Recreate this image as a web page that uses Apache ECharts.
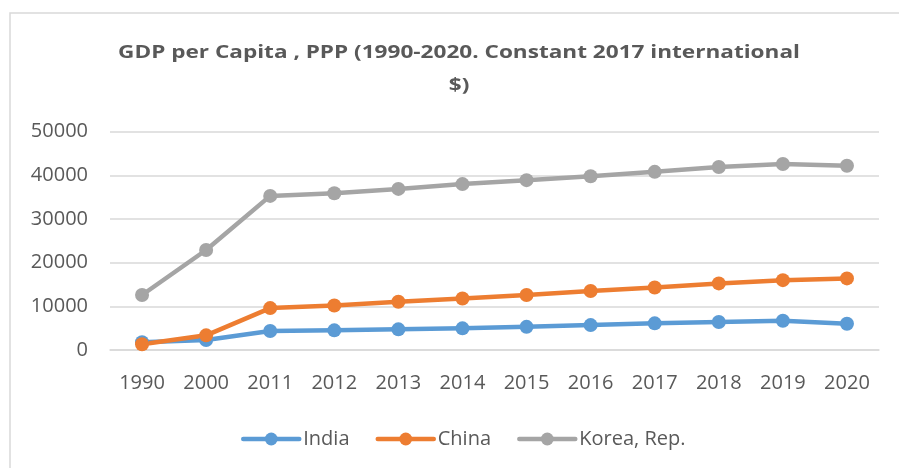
<!DOCTYPE html>
<html>
<head>
<meta charset="utf-8">
<title>GDP per Capita, PPP</title>
<script src="https://cdn.jsdelivr.net/npm/echarts@6/dist/echarts.min.js"></script>
<style>
  html, body { margin: 0; padding: 0; background: #fff; }
  #main { width: 899px; height: 468px; }
</style>
</head>
<body>
<div id="main"></div>
<script>
// 数据
var years = ['1990', '2000', '2011', '2012', '2013', '2014', '2015', '2016', '2017', '2018', '2019', '2020'];
var india = [1800, 2300, 4350, 4500, 4730, 4960, 5300, 5700, 6100, 6400, 6700, 6000];
var china = [1300, 3360, 9600, 10200, 11050, 11800, 12600, 13500, 14300, 15250, 16000, 16400];
var korea = [12600, 22900, 35300, 35900, 36900, 38000, 38900, 39800, 40800, 41900, 42600, 42200];

var textColor = '#595959';
var font = 'Open Sans';

var chart = echarts.init(document.getElementById('main'));

function lineSeries(name, data, color) {
    return {
        name: name,
        type: 'line',
        data: data,
        symbol: 'circle',
        symbolSize: 14,
        lineStyle: { color: color, width: 4.5, cap: 'round', join: 'round' },
        itemStyle: { color: color },
        emphasis: { disabled: true }
    };
}

var option = {
    animation: false,
    graphic: [{
        type: 'rect',
        shape: { x: 10, y: 13, width: 900, height: 470 },
        style: { fill: 'none', stroke: '#d9d9d9', lineWidth: 1.5 },
        silent: true
    }, {
        // 标题 (横向拉宽一点, 接近原图字宽)
        type: 'text',
        x: 459,
        y: 36,
        scaleX: 1.22,
        style: {
            text: 'GDP per Capita , PPP (1990-2020. Constant 2017 international\n$)',
            align: 'center',
            verticalAlign: 'top',
            fontFamily: font,
            fontWeight: 'bold',
            fontSize: 18.5,
            lineHeight: 33,
            fill: textColor
        },
        silent: true
    }],
    legend: {
        left: 236,
        top: 424,
        itemWidth: 56,
        itemHeight: 16,
        itemGap: 26,
        lineStyle: { width: 4.5, cap: 'round' },
        textStyle: { fontFamily: font, fontSize: 20, color: textColor, padding: [0, 0, 0, -1] },
        data: ['India', 'China', 'Korea, Rep.']
    },
    grid: {
        left: 110,
        right: 20,
        top: 131.7,
        bottom: 118,
        containLabel: false
    },
    xAxis: {
        type: 'category',
        data: years,
        boundaryGap: true,
        axisLine: { show: true, lineStyle: { color: '#d9d9d9', width: 1.5 } },
        axisTick: { show: false },
        axisLabel: { fontFamily: font, fontSize: 20, color: textColor, margin: 23 }
    },
    yAxis: {
        type: 'value',
        min: 0,
        max: 50000,
        interval: 10000,
        axisLine: { show: false },
        axisTick: { show: false },
        axisLabel: {
            fontFamily: font, fontSize: 20, color: textColor, margin: 22,
            formatter: function (v) { return String(v); }
        },
        splitLine: { lineStyle: { color: '#d9d9d9', width: 1.5 } }
    },
    series: [
        lineSeries('India', india, '#5B9BD5'),
        lineSeries('China', china, '#ED7D31'),
        lineSeries('Korea, Rep.', korea, '#A5A5A5')
    ]
};

chart.setOption(option);
</script>
</body>
</html>
